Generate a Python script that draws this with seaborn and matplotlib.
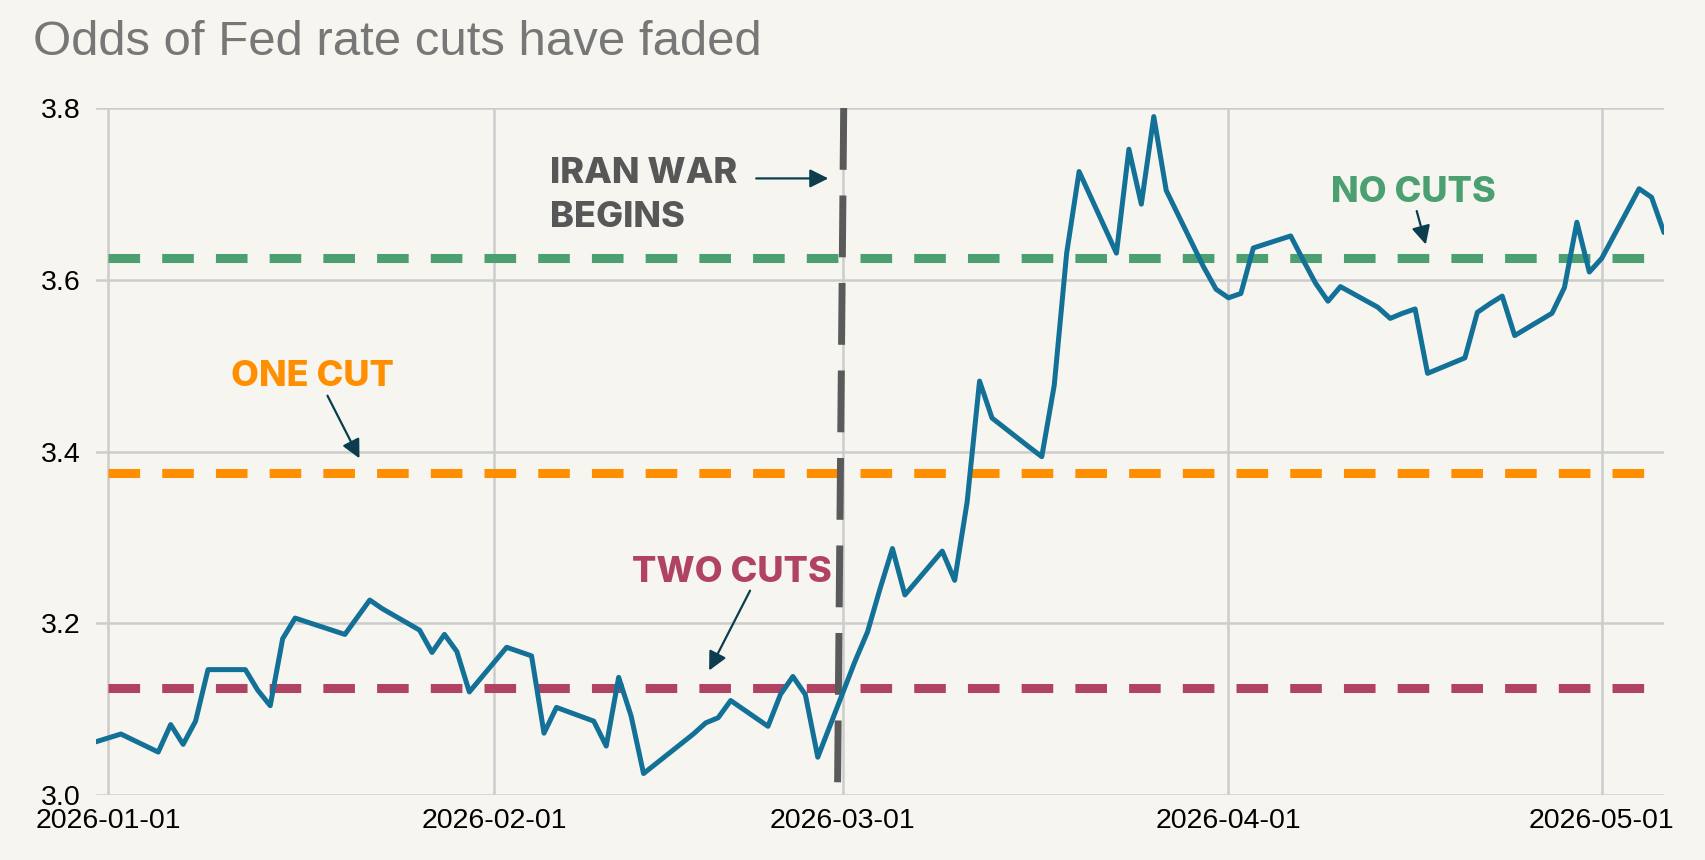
import pandas as pd
import matplotlib.pyplot as plt
import matplotlib.dates as mdates
import seaborn as sns

# market-implied fed funds rate path
dates = [
    "2025-12-31", "2026-01-02", "2026-01-05", "2026-01-06", "2026-01-07", "2026-01-08",
    "2026-01-09", "2026-01-12", "2026-01-13", "2026-01-14", "2026-01-15", "2026-01-16",
    "2026-01-20", "2026-01-21", "2026-01-22", "2026-01-23", "2026-01-26", "2026-01-27",
    "2026-01-28", "2026-01-29", "2026-01-30", "2026-02-02", "2026-02-03", "2026-02-04",
    "2026-02-05", "2026-02-06", "2026-02-09", "2026-02-10", "2026-02-11", "2026-02-12",
    "2026-02-13", "2026-02-17", "2026-02-18", "2026-02-19", "2026-02-20", "2026-02-23",
    "2026-02-24", "2026-02-25", "2026-02-26", "2026-02-27", "2026-03-02", "2026-03-03",
    "2026-03-04", "2026-03-05", "2026-03-06", "2026-03-09", "2026-03-10", "2026-03-11",
    "2026-03-12", "2026-03-13", "2026-03-16", "2026-03-17", "2026-03-18", "2026-03-19",
    "2026-03-20", "2026-03-23", "2026-03-24", "2026-03-25", "2026-03-26", "2026-03-27",
    "2026-03-30", "2026-03-31", "2026-04-01", "2026-04-02", "2026-04-03", "2026-04-06",
    "2026-04-07", "2026-04-08", "2026-04-09", "2026-04-10", "2026-04-13", "2026-04-14",
    "2026-04-15", "2026-04-16", "2026-04-17", "2026-04-20", "2026-04-21", "2026-04-22",
    "2026-04-23", "2026-04-24", "2026-04-27", "2026-04-28", "2026-04-29", "2026-04-30",
    "2026-05-01", "2026-05-04", "2026-05-05", "2026-05-06",
]
implied_rate = [
    3.062, 3.071, 3.050, 3.082, 3.059, 3.086,
    3.146, 3.146, 3.122, 3.104, 3.182, 3.206,
    3.187, 3.207, 3.227, 3.217, 3.192, 3.166,
    3.187, 3.167, 3.120, 3.172, 3.167, 3.162,
    3.072, 3.102, 3.086, 3.057, 3.137, 3.092,
    3.025, 3.071, 3.084, 3.090, 3.110, 3.080,
    3.117, 3.138, 3.117, 3.044, 3.156, 3.190,
    3.240, 3.287, 3.233, 3.284, 3.250, 3.341,
    3.482, 3.439, 3.405, 3.394, 3.477, 3.631,
    3.726, 3.631, 3.752, 3.688, 3.790, 3.704,
    3.615, 3.589, 3.579, 3.584, 3.637, 3.651,
    3.623, 3.596, 3.575, 3.592, 3.568, 3.555,
    3.561, 3.566, 3.491, 3.509, 3.562, 3.572,
    3.581, 3.535, 3.561, 3.591, 3.667, 3.609,
    3.625, 3.706, 3.696, 3.655,
]

# reference levels for the number of cuts
cut_levels = [3.625, 3.375, 3.125]
cut_labels = ["NO CUTS", "ONE CUT", "TWO CUTS"]
cut_colors = ["#4c9f70", "#ff8f00", "#b04362"]

# war start marker (line is drawn slightly slanted in the original)
war_x = ["2026-03-01 02:00", "2026-02-28 14:00"]
war_y = [3.8, 3.0]

month_ticks = ["2026-01-01", "2026-02-01", "2026-03-01", "2026-04-01", "2026-05-01"]
rate_ticks = [3.0, 3.2, 3.4, 3.6, 3.8]

bg = "#f6f5f0"
arrow_col = "#0b3d4e"

sns.set_theme(style="whitegrid", rc={
    "figure.facecolor": bg,
    "axes.facecolor": bg,
    "grid.color": "#cccccc",
    "grid.linewidth": 1.8,
})
plt.rcParams["font.family"] = ["Liberation Sans", "DejaVu Sans"]

df = pd.DataFrame({"date": pd.to_datetime(dates), "rate": implied_rate})

t0 = pd.Timestamp("2026-01-01")
def at(d):
    return mdates.date2num(t0 + pd.Timedelta(days=d))

fig = plt.figure(figsize=(17.05, 8.6), dpi=100)
ax = fig.add_axes([96 / 1705, 1 - 795 / 860, 1568 / 1705, 687 / 860])

for lvl, col in zip(cut_levels, cut_colors):
    ax.plot([at(0), at(125)], [lvl, lvl], color=col, lw=6.5,
            dashes=(3.5, 2.45), solid_capstyle="butt", dash_capstyle="butt", zorder=2)

ax.plot(mdates.date2num(pd.to_datetime(war_x)), war_y, color="#5a5a5a", lw=5,
        dashes=(8.9, 3.7), dash_capstyle="butt", zorder=3)

sns.lineplot(data=df, x="date", y="rate", ax=ax, color="#137096", lw=3.6, zorder=4)

ax.set_xlim(at(-1), at(125))
ax.set_ylim(3.0, 3.8)
ax.set_xticks(mdates.date2num(pd.to_datetime(month_ticks)))
ax.xaxis.set_major_formatter(mdates.DateFormatter("%Y-%m-%d"))
ax.set_yticks(rate_ticks)
ax.set_yticklabels([f"{v:.1f}" for v in rate_ticks])
ax.set_xlabel("")
ax.set_ylabel("")
ax.tick_params(axis="both", length=0, labelsize=20.5, labelcolor="black")
ax.tick_params(axis="y", pad=11)
ax.tick_params(axis="x", pad=9)
for s in ax.spines.values():
    s.set_visible(False)

fig.text(33 / 1705, 1 - 55 / 860, "Odds of Fed rate cuts have faded",
         ha="left", va="baseline", fontsize=35.4, color="#777777")

lab_font = dict(family=["Inter", "DejaVu Sans"], weight="heavy", fontsize=26)
ax.text(at(104.9), 3.691, cut_labels[0], ha="center", va="baseline", color=cut_colors[0], **lab_font)
ax.text(at(16.4), 3.476, cut_labels[1], ha="center", va="baseline", color=cut_colors[1], **lab_font)
ax.text(at(50.1), 3.248, cut_labels[2], ha="center", va="baseline", color=cut_colors[2], **lab_font)
ax.text(at(35.5), 3.661, "IRAN WAR\nBEGINS", ha="left", va="baseline", color="#575757",
        linespacing=1.45, **lab_font)

arrows = [
    ((at(52.05), 3.718), (at(57.85), 3.718)),
    ((at(105.13), 3.680), (at(105.86), 3.641)),
    ((at(17.6), 3.465), (at(20.17), 3.392)),
    ((at(51.56), 3.238), (at(48.27), 3.145)),
]
for tail, tip in arrows:
    ax.annotate("", xy=tip, xytext=tail,
                arrowprops=dict(arrowstyle="-|>", color=arrow_col, lw=1.6,
                                mutation_scale=28, shrinkA=0, shrinkB=0),
                zorder=5)

fig.savefig("out.png", dpi=100, facecolor=bg)
